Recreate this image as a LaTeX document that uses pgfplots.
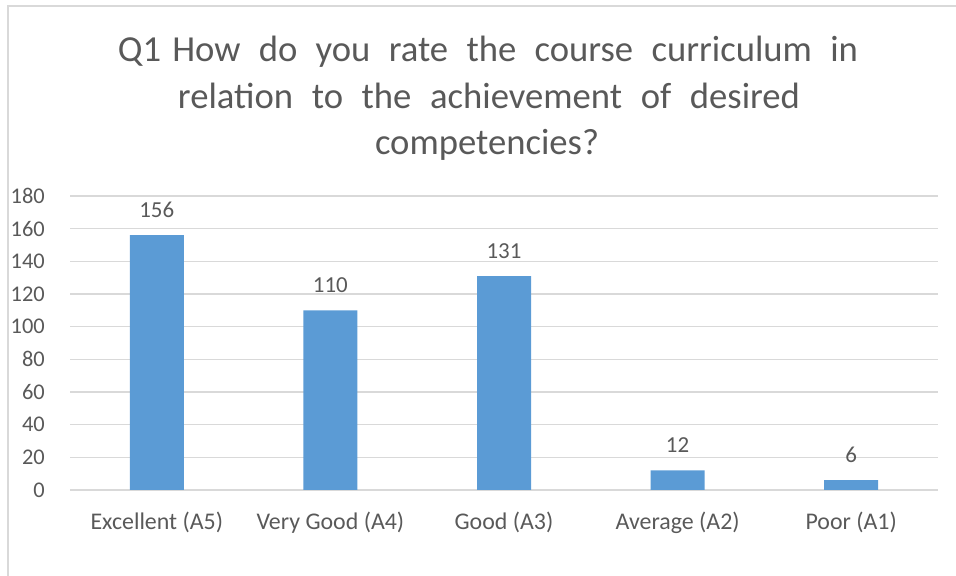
\documentclass[border=0pt]{standalone}
\usepackage{fontspec}
\setmainfont{Carlito}
\usepackage{pgfplots}
\pgfplotsset{compat=1.18}

\definecolor{barblue}{HTML}{5B9BD5}
\definecolor{txtgray}{HTML}{595959}
\definecolor{gridgray}{HTML}{D9D9D9}

\begin{document}
\begin{tikzpicture}[x=1bp,y=1bp]
\path[use as bounding box] (0,0) rectangle (956,576);
% chart border (only left and top visible)
\draw[gridgray, line width=1.5bp] (8,0) -- (8,570) -- (960,570);

% title, three lines with stretched word spacing
\begin{scope}[every node/.style={inner sep=0pt, anchor=base, text=txtgray, font=\fontsize{36.8}{44}\selectfont}]
\node at (488,514) {\makebox[740bp][s]{Q1\hspace{11bp}How do you rate the course curriculum in}};
\node at (489,467) {\makebox[622bp][s]{relation to the achievement of desired}};
\node at (487,421) {competencies?};
\end{scope}

\begin{axis}[
    at={(70bp,86bp)},
    anchor=south west,
    scale only axis,
    width=868bp,
    height=294bp,
    ybar,
    bar width=54bp,
    xmin=-0.5, xmax=4.5,
    ymin=0, ymax=180,
    ytick={0,20,...,180},
    xtick=data,
    xticklabels={Excellent (A5),Very Good (A4),Good (A3),Average (A2),Poor (A1)},
    axis line style={draw=none},
    axis x line*=bottom,
    major tick length=0pt,
    ymajorgrids,
    grid style={gridgray, line width=1.3bp},
    /pgf/number format/assume math mode=true,
    tick label style={text=txtgray, font=\fontsize{24}{28}\selectfont},
    yticklabel style={anchor=east, inner sep=0pt, xshift=-25bp, font=\fontsize{22.5}{27}\selectfont},
    xticklabel style={anchor=base, inner sep=0pt, yshift=-40bp},
    nodes near coords,
    every node near coord/.append style={anchor=base, inner sep=0pt, yshift=18bp, text=txtgray, font=\fontsize{23}{28}\selectfont},
    clip=false,
]
\addplot[fill=barblue, draw=none] coordinates {
    (0,156)
    (1,110)
    (2,131)
    (3,12)
    (4,6)
};
\end{axis}
\end{tikzpicture}
\end{document}
